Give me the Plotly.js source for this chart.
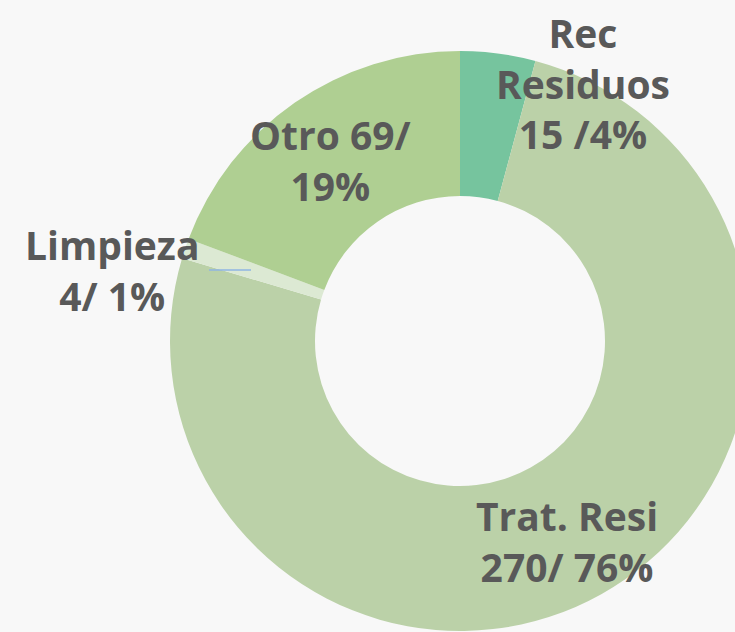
<!DOCTYPE html>
<html>
<head>
<meta charset="utf-8">
<script src="https://cdn.plot.ly/plotly-3.0.1.min.js"></script>
<style>
html, body { margin: 0; padding: 0; overflow: hidden; background: #f8f8f8; }
#chart { width: 800px; height: 632px; }
</style>
</head>
<body>
<div id="chart"></div>
<script>
const categories = ["Rec Residuos", "Trat. Resi", "Limpieza", "Otro"];
const values = [15, 270, 4, 69];
const labelTexts = ["Rec<br>Residuos<br>15 /4%", "Trat. Resi<br>270/ 76%", "Limpieza<br>4/ 1%", "Otro 69/<br>19%"];
const colors = ["#76c49e", "#bbd1a8", "#dce9d3", "#afcf92"];

const W = 800, H = 632;
const labelPos = [[583, 83], [567, 541], [112, 270], [330, 160]];

const annotations = labelTexts.map((t, i) => ({
  text: t,
  xref: "paper", yref: "paper",
  x: labelPos[i][0] / W, y: 1 - labelPos[i][1] / H,
  xanchor: "center", yanchor: "middle",
  showarrow: false,
  font: { family: "'Open Sans', sans-serif", size: 39, color: "#595959", weight: "bold" },
  align: "center"
}));

const data = [{
  type: "pie",
  labels: categories,
  values: values,
  hole: 0.5,
  sort: false,
  direction: "clockwise",
  rotation: 0,
  textinfo: "none",
  marker: { colors: colors, line: { width: 0 } },
  domain: { x: [170 / W, 750 / W], y: [1 / H, 581 / H] },
  showlegend: false,
  hoverinfo: "label+value+percent"
}];

const layout = {
  width: W, height: H,
  margin: { l: 0, r: 0, t: 0, b: 0 },
  paper_bgcolor: "#f8f8f8",
  plot_bgcolor: "#f8f8f8",
  annotations: annotations,
  shapes: [{
    type: "line", xref: "paper", yref: "paper",
    x0: 209 / W, x1: 251 / W, y0: 1 - 270 / H, y1: 1 - 270 / H,
    line: { color: "#8fb4e3", width: 1.5 }
  }]
};

Plotly.newPlot("chart", data, layout, { displayModeBar: false, staticPlot: true });
</script>
</body>
</html>
